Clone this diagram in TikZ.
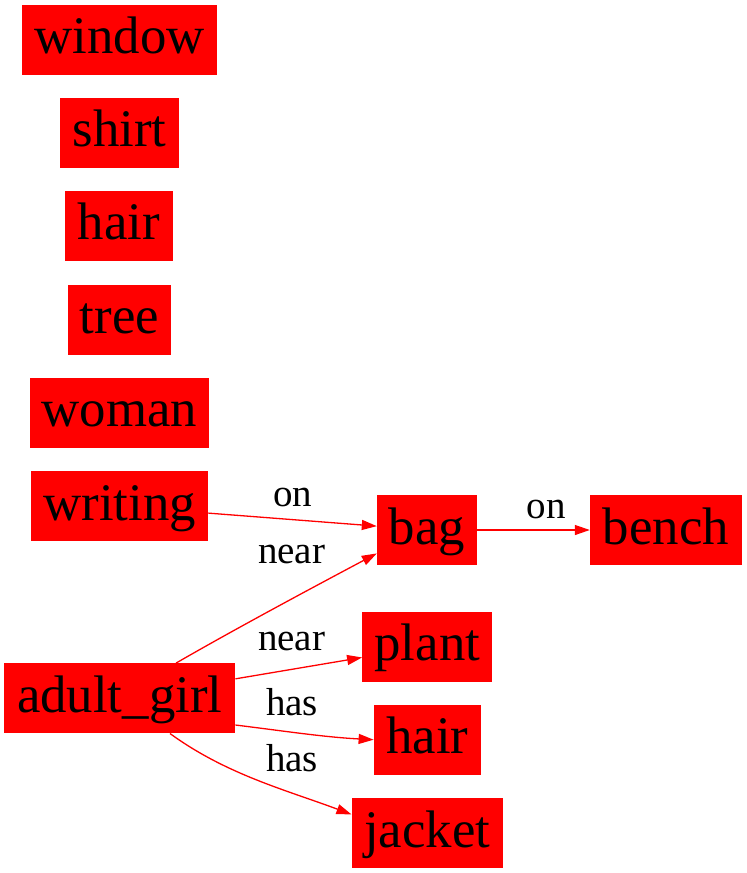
\documentclass[tikz,border=0pt]{standalone}
\usepackage{fontspec}
\setmainfont{Liberation Serif}
\usetikzlibrary{arrows.meta}
\tikzset{
  obj/.style={fill=red, draw=none, inner sep=0pt, minimum height=70pt,
    text height=39pt, text depth=11pt, font=\fontsize{52.8}{60}\selectfont},
  rel/.style={draw=red, line width=1.3pt, -{Triangle[length=15pt,width=10pt]}},
  lab/.style={anchor=base, inner sep=0pt, font=\fontsize{39}{44}\selectfont}
}
\begin{document}
\begin{tikzpicture}[x=1pt,y=1pt]
\useasboundingbox (0,0) rectangle (747,-873);
\node[obj, minimum width=195pt] (window) at (119.5,-39.5) {window};
\node[obj, minimum width=119pt] (shirt) at (119.5,-132.5) {shirt};
\node[obj, minimum width=108pt] (hair) at (119,-225.5) {hair};
\node[obj, minimum width=103pt] (tree) at (119.5,-319.5) {tree};
\node[obj, minimum width=179pt] (woman) at (119.5,-412.5) {woman};
\node[obj, minimum width=177pt] (writing) at (119.7,-506.3) {writing};
\node[obj, minimum width=100pt] (bag) at (427,-530) {bag};
\node[obj, minimum width=152pt] (bench) at (666,-530) {bench};
\node[obj, minimum width=231pt] (ag) at (119.7,-698.3) {adult\_girl};
\node[obj, minimum width=130pt] (plant) at (427.3,-646.5) {plant};
\node[obj, minimum width=107pt] (hair2) at (427.3,-739.7) {hair};
\node[obj, minimum width=151pt] (jacket) at (427.2,-833.3) {jacket};

\draw[rel] (writing) -- (bag);
\draw[rel] (bag) -- (bench);
\draw[rel] (ag) -- (plant);
\draw[rel] (ag.32.5) .. controls +(30:70pt) and +(208:70pt) .. (bag.205);
\draw[rel] (ag.-13.5) .. controls +(-7:50pt) and +(177:50pt) .. (hair2.west);
\draw[rel] (ag.-35.6) .. controls +(-36:70pt) and +(159.5:70pt) .. (jacket.166.6);

\node[lab] (l1) at (292.5,-506) {on};
\node[lab] (l2) at (291.7,-563.3) {near};
\node[lab] (l3) at (546,-518.3) {on};
\node[lab] (l4) at (291.7,-650.7) {near};
\node[lab] (l5) at (292,-715.7) {has};
\node[lab] (l6) at (292,-771.7) {has};
\end{tikzpicture}
\end{document}
